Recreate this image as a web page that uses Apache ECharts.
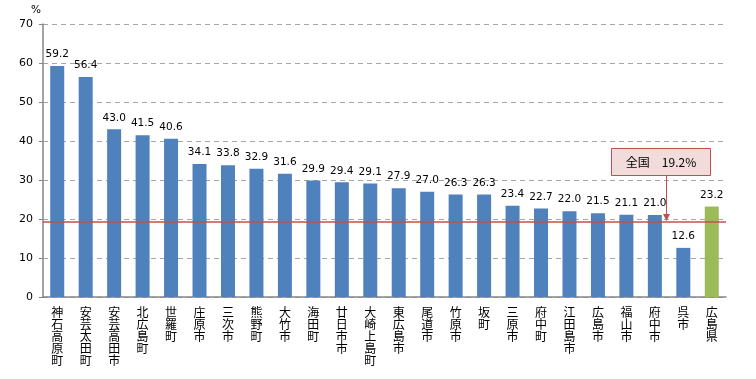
<!DOCTYPE html>
<html><head><meta charset="utf-8">
<script src="https://cdn.jsdelivr.net/npm/echarts@6/dist/echarts.min.js"></script>
<style>html,body{margin:0;padding:0;background:#fff}#c{width:756px;height:379px}</style>
</head><body><div id="c"></div>
<script>
const categories = ['神石高原町','安芸太田町','安芸高田市','北広島町','世羅町','庄原市','三次市','熊野町','大竹市','海田町','廿日市市','大崎上島町','東広島市','尾道市','竹原市','坂町','三原市','府中町','江田島市','広島市','福山市','府中市','呉市','広島県'];
const values = [59.2,56.4,43.0,41.5,40.6,34.1,33.8,32.9,31.6,29.9,29.4,29.1,27.9,27.0,26.3,26.3,23.4,22.7,22.0,21.5,21.1,21.0,12.6,23.2];
const nationalAvg = 19.2;
const nationalLabel = '全国　19.2%';
const yTicks = [0,10,20,30,40,50,60,70];

const BLUE = '#4f81bd', GREEN = '#9bbb59', RED = '#c0504d';
const chart = echarts.init(document.getElementById('c'));
const data = values.map((v, i) => ({
  value: v,
  itemStyle: { color: i === values.length - 1 ? GREEN : BLUE }
}));
chart.setOption({
  animation: false,
  grid: { left: 43, right: 30, top: 24, bottom: 82 },
  xAxis: {
    type: 'category',
    data: categories,
    axisLine: { lineStyle: { color: '#868686', width: 1.5 } },
    axisTick: { inside: true, length: 4, lineStyle: { color: '#868686' } },
    axisLabel: {
      interval: 0, margin: 9,
      fontFamily: 'Noto Sans CJK JP', fontSize: 12, lineHeight: 12, color: '#000',
      formatter: s => s.split('').join('\n'),
      verticalAlign: 'top'
    }
  },
  yAxis: {
    type: 'value', min: yTicks[0], max: yTicks[yTicks.length - 1], interval: 10,
    name: '%', nameLocation: 'end', nameGap: 8,
    nameTextStyle: { fontFamily: 'DejaVu Sans', fontSize: 10.5, color: '#000', align: 'right', padding: [0, 2, 0, 0] },
    axisLine: { show: true, lineStyle: { color: '#868686', width: 1.5 } },
    axisTick: { show: true, length: 4, lineStyle: { color: '#868686' } },
    axisLabel: { fontFamily: 'DejaVu Sans', fontSize: 11, color: '#000', margin: 10 },
    splitLine: { lineStyle: { color: '#a6a6a6', type: [5, 4] } }
  },
  series: [{
    type: 'bar', data: data, barWidth: 14,
    label: {
      show: true, position: 'top', distance: 6,
      fontFamily: 'DejaVu Sans', fontSize: 10.5, color: '#000',
      formatter: p => p.value.toFixed(1)
    },
    markLine: {
      silent: true, symbol: 'none',
      lineStyle: { color: RED, width: 1.5, type: 'solid' },
      label: { show: false },
      data: [{ yAxis: nationalAvg }]
    }
  }]
});

// annotation box with arrow pointing at the national average line
const p21 = chart.convertToPixel({ seriesIndex: 0 }, [21, nationalAvg]);
const p22 = chart.convertToPixel({ seriesIndex: 0 }, [22, nationalAvg]);
const ax = Math.round(p21[0] + (p22[0] - p21[0]) * 0.4) + 0.5;
const ay = p21[1];
const top30 = chart.convertToPixel({ seriesIndex: 0 }, [21, 30])[1];
const boxW = 99, boxH = 27;
const boxTop = Math.round(top30 - 32) + 0.5;
const boxLeft = Math.round(ax - 56) + 0.5;
chart.setOption({
  graphic: [
    { type: 'rect', shape: { x: boxLeft, y: boxTop, width: boxW, height: boxH },
      style: { fill: '#f2dcdb', stroke: RED, lineWidth: 1 }, z: 10 },
    { type: 'text', x: boxLeft + boxW / 2, y: boxTop + boxH / 2,
      style: { text: nationalLabel, fill: '#000', font: '12px "Noto Sans CJK JP"', align: 'center', verticalAlign: 'middle' }, z: 11 },
    { type: 'line', shape: { x1: ax, y1: boxTop + boxH, x2: ax, y2: ay - 2 },
      style: { stroke: RED, lineWidth: 1 }, z: 10 },
    { type: 'polygon', shape: { points: [[ax - 3.5, ay - 8], [ax + 3.5, ay - 8], [ax, ay - 1]] },
      style: { fill: RED }, z: 10 }
  ]
});
</script></body></html>
